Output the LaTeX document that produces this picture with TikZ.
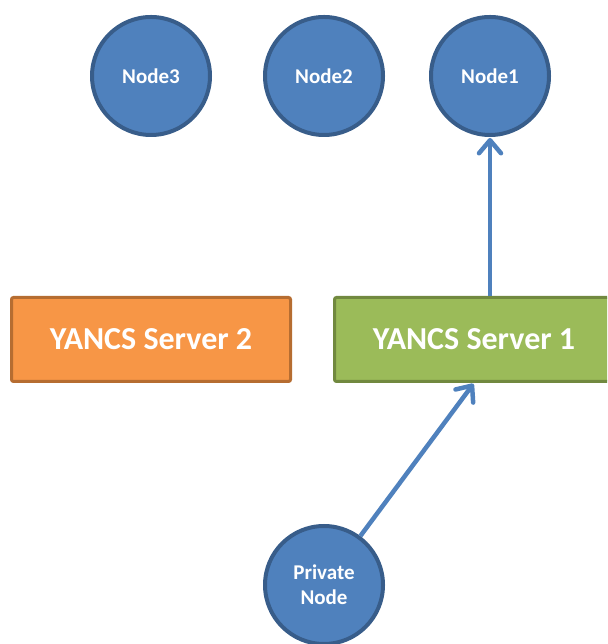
\documentclass[tikz,border=0pt]{standalone}
\usepackage{fontspec}
\setmainfont{Carlito}
\usetikzlibrary{arrows.meta}
\definecolor{cfill}{HTML}{4F81BD}
\definecolor{cline}{HTML}{385D8A}
\definecolor{ofill}{HTML}{F79646}
\definecolor{oline}{HTML}{B66D31}
\definecolor{gfill}{HTML}{9BBB59}
\definecolor{gline}{HTML}{71893F}
\tikzset{
  cnode/.style={circle, fill=cfill, draw=cline, line width=4pt, minimum size=118pt, inner sep=0pt,
    text=white, font=\bfseries\fontsize{21}{25}\selectfont, align=center},
  server/.style={rectangle, rounded corners=2pt, line width=3pt, minimum width=279pt, minimum height=84pt,
    text=white, font=\bfseries\fontsize{32}{36}\selectfont},
  conn/.style={draw=cfill, line width=4.5pt, -{Straight Barb[length=13pt, width=22pt, line cap=round, line join=round]}, shorten >=1pt}
}
\begin{document}
\begin{tikzpicture}[x=1pt, y=1pt]
\clip (0,0) rectangle (607,644);
\useasboundingbox (0,0) rectangle (607,644);
\node[cnode] (n3) at (151,568) {Node3};
\node[cnode] (n2) at (324,568) {Node2};
\node[cnode] (n1) at (490,568) {Node1};
\node[server, fill=ofill, draw=oline] (s2) at (151,304.5) {YANCS Server 2};
\node[server, fill=gfill, draw=gline] (s1) at (474,304.5) {YANCS Server 1};
\node[cnode] (p) at (324,59) {Private\\Node};
\draw[conn] (s1.north -| n1.south) -- (n1.south);
\draw[conn] (p) -- (s1.south);
\end{tikzpicture}
\end{document}
